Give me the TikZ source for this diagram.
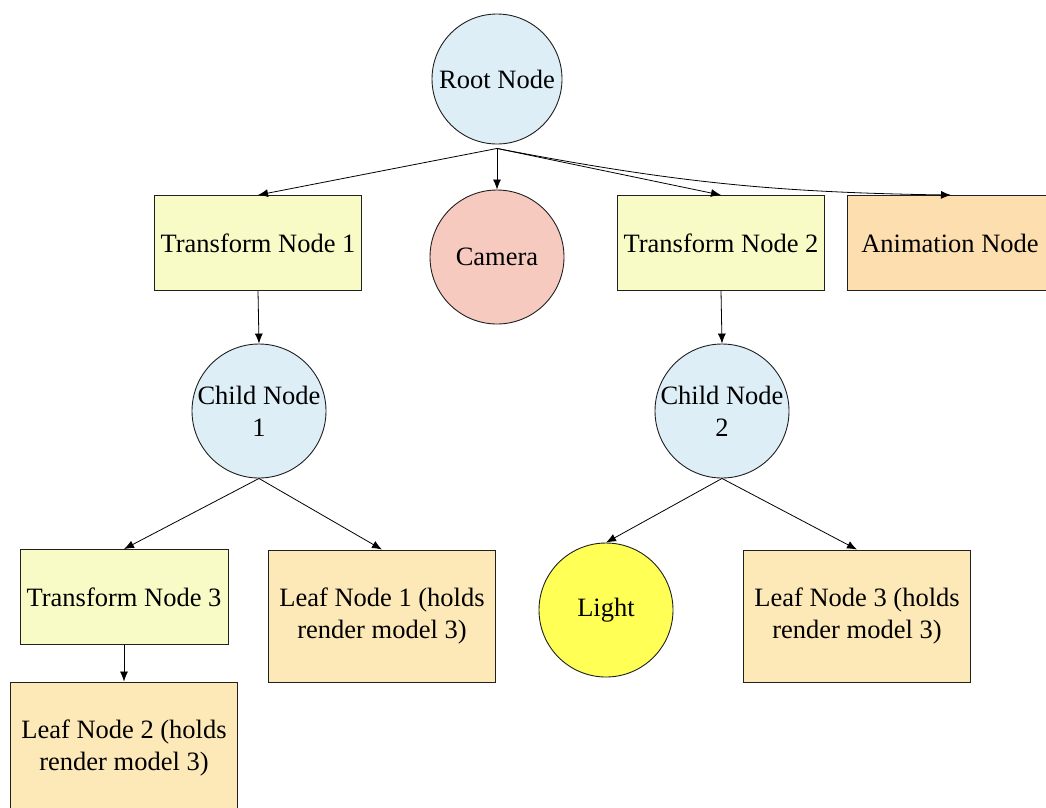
\documentclass[tikz,border=0pt]{standalone}
\usepackage{fontspec}
\setmainfont{Liberation Serif}
\usetikzlibrary{arrows.meta}
\definecolor{blueish}{HTML}{DDEEF6}
\definecolor{camfill}{HTML}{F7CAC0}
\definecolor{xformfill}{HTML}{F8FBC6}
\definecolor{animfill}{HTML}{FDDEAF}
\definecolor{leaffill}{HTML}{FDE8B8}
\definecolor{lightfill}{HTML}{FFFF55}
\definecolor{edgegray}{HTML}{202020}
\tikzset{
  base/.style={draw=edgegray, line width=0.9pt, align=center, inner sep=0pt,
    font=\fontsize{26.5}{32}\selectfont},
  round/.style={base, circle, minimum size=134pt},
  xform/.style={base, rectangle, fill=xformfill, minimum width=207pt, minimum height=95pt},
  leaf/.style={base, rectangle, fill=leaffill, minimum width=227pt, minimum height=132pt},
  link/.style={draw=black, line width=0.8pt, -{Latex[length=10pt,width=8pt]}}
}
\begin{document}
\begin{tikzpicture}[x=1pt,y=-1pt]
\useasboundingbox (0,0) rectangle (1046,807);
\clip (0,0) rectangle (1046,807);
\fill[white] (0,0) rectangle (1046,807);

% top level
\node[round, fill=blueish, minimum size=130pt] (root) at (497,79) {Root Node};
\node[xform] (t1) at (258,243) {Transform Node 1};
\node[round, fill=camfill] (cam) at (497,257) {Camera};
\node[xform] (t2) at (721,243) {Transform Node 2};
\node[base, rectangle, fill=animfill, minimum width=207pt, minimum height=95pt] (anim) at (951,243) {\hspace*{-2pt}Animation Node};

% second level
\node[round, fill=blueish] (c1) at (259,411) {Child Node\\1};
\node[round, fill=blueish] (c2) at (722,411) {Child Node\\2};

% third level
\node[xform, minimum width=208pt] (t3) at (124,597) {Transform Node 3};
\node[leaf] (l1) at (382,616) {Leaf Node 1 (holds\\render model 3)};
\node[round, fill=lightfill] (light) at (606,610) {Light};
\node[leaf] (l3) at (857,616) {Leaf Node 3 (holds\\render model 3)};
\node[leaf] (l2) at (124,748) {Leaf Node 2 (holds\\render model 3)};

% connectors
\coordinate (rs) at ([yshift=-4pt]root.south);
\draw[link] (rs) -- (t1.north);
\draw[link] (rs) -- (cam.north);
\draw[link] (rs) -- (t2.north);
\draw[link] (rs) to[bend right=5] (anim.north);
\draw[link] (t1.south) -- (c1.north);
\draw[link] (t2.south) -- (c2.north);
\draw[link] (c1.south) -- (t3.north);
\draw[link] (c1.south) -- (l1.north);
\draw[link] (c2.south) -- (light.north);
\draw[link] (c2.south) -- (l3.north);
\draw[link] (t3.south) -- (l2.north);
\end{tikzpicture}
\end{document}
